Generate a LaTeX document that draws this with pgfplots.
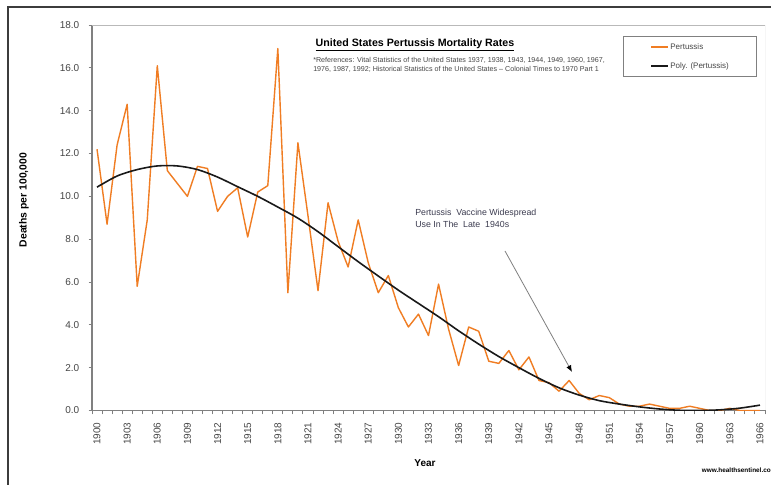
\documentclass[border=0pt]{standalone}
\usepackage{pgfplots}
\pgfplotsset{compat=1.18}
\usetikzlibrary{arrows.meta}
\usepackage{fontspec}
\setmainfont{Liberation Sans}
\definecolor{orangeL}{RGB}{240,125,35}
\definecolor{trend}{RGB}{25,25,25}
\definecolor{tickgray}{RGB}{70,70,70}
\definecolor{annot}{RGB}{60,60,80}
\definecolor{frame}{RGB}{60,60,60}
\pgfplotstableread{
year val
1900 12.2
1901 8.7
1902 12.4
1903 14.3
1904 5.8
1905 8.9
1906 16.1
1907 11.2
1908 10.6
1909 10.0
1910 11.4
1911 11.3
1912 9.3
1913 10.0
1914 10.4
1915 8.1
1916 10.2
1917 10.5
1918 16.9
1919 5.5
1920 12.5
1921 9.1
1922 5.6
1923 9.7
1924 7.9
1925 6.7
1926 8.9
1927 6.9
1928 5.5
1929 6.3
1930 4.8
1931 3.9
1932 4.5
1933 3.5
1934 5.9
1935 3.8
1936 2.1
1937 3.9
1938 3.7
1939 2.3
1940 2.2
1941 2.8
1942 1.9
1943 2.5
1944 1.4
1945 1.3
1946 0.9
1947 1.4
1948 0.8
1949 0.5
1950 0.7
1951 0.6
1952 0.3
1953 0.2
1954 0.2
1955 0.3
1956 0.2
1957 0.1
1958 0.1
1959 0.2
1960 0.1
1961 0.0
1962 0.0
1963 0.1
1964 0.0
1965 0.0
1966 0.0
}\pertussis
\pgfplotstableread{
year val
1900 10.43
1902 10.95
1904 11.25
1906 11.42
1908 11.42
1910 11.25
1912 10.90
1914 10.45
1916 10.00
1918 9.50
1920 8.98
1922 8.35
1924 7.65
1926 6.95
1928 6.28
1930 5.62
1932 5.00
1934 4.38
1936 3.72
1938 3.10
1940 2.52
1942 2.00
1944 1.50
1946 1.06
1948 0.72
1950 0.46
1952 0.30
1954 0.17
1956 0.07
1958 0.01
1960 0.00
1962 0.03
1964 0.11
1966 0.25
}\polyfit
\begin{document}
\begin{tikzpicture}[x=0.75pt,y=0.75pt]
\useasboundingbox (0,0) rectangle (771,485);
\fill[white] (0,0) rectangle (771,485);
\draw[line width=1.5pt, frame] (8,0) -- (8,478) -- (772,478);
\begin{axis}[
  at={(69pt,55.875pt)}, anchor=south west,
  scale only axis, width=504.75pt, height=289.1pt,
  xmin=1899.5, xmax=1966.5, ymin=0, ymax=18,
  axis x line*=bottom, axis y line*=left,
  axis line style={draw=gray, line width=0.9pt},
  tick align=outside,
  xtick={1900,1903,...,1966},
  minor xtick={1899.5,1900.5,...,1966.5},
  every major x tick/.append style={draw=none},
  minor tick length=3pt,
  major tick length=2.5pt,
  tick style={gray, line width=0.7pt},
  ytick={0,2,...,18},
  x tick label style={rotate=90, anchor=east, font=\fontsize{7.5}{9}\selectfont, text=tickgray,
     /pgf/number format/1000 sep={}},
  xticklabel shift=3pt,
  y tick label style={font=\fontsize{7.5}{9}\selectfont, text=tickgray,
     /pgf/number format/fixed, /pgf/number format/fixed zerofill, /pgf/number format/precision=1},
  yticklabel shift=3.5pt,
  /pgf/number format/assume math mode=true,
  legend cell align=left,
  legend image code/.code={\draw[#1, line width=1.4pt] (0pt,0pt) -- (12.75pt,0pt);},
  legend style={at={(0.789,0.971)}, anchor=north west, draw=gray, line width=0.75pt,
     font=\fontsize{6}{7}\selectfont, text=tickgray, inner xsep=20.25pt, inner ysep=5pt,
     row sep=8.5pt, nodes={inner xsep=0.75pt, inner ysep=0pt, text height=4.5pt, text depth=1.3pt}},
]
\addplot[orangeL, line width=1.05pt, line join=round] table[x=year, y=val] {\pertussis};
\addlegendentry{Pertussis}
\addplot[trend, line width=1.2pt, smooth] table[x=year, y=val] {\polyfit};
\addlegendentry{Poly. (Pertussis)}
\draw[gray!55, line width=0.6pt] (rel axis cs:0,1) -- (rel axis cs:1,1) -- (rel axis cs:1,0);
\end{axis}
% titles and labels
\node[anchor=west, font=\bfseries\fontsize{8}{10}\selectfont] at (311,440) {\underline{United States Pertussis Mortality Rates}};
\node[anchor=north west, align=left, inner sep=0pt, font=\fontsize{5.35}{6.8}\selectfont, text=tickgray] at (313,428)
  {*References: Vital Statistics of the United States 1937, 1938, 1943, 1944, 1949, 1960, 1967,\\
   1976, 1987, 1992; Historical Statistics of the United States -- Colonial Times to 1970 Part 1};
\node[rotate=90, font=\bfseries\fontsize{7.8}{9}\selectfont] at (24,285) {Deaths per 100,000};
\node[font=\bfseries\fontsize{7.5}{9}\selectfont] at (425,22) {Year};
\node[anchor=east, inner sep=0pt, font=\bfseries\fontsize{4.8}{6}\selectfont] at (771,15) {www.healthsentinel.co};
\node[anchor=north west, align=left, inner sep=0pt, font=\fontsize{6.6}{9}\selectfont, text=annot] at (415,276)
  {Pertussis\ \ Vaccine Widespread\\Use In The\ \ Late\ \ 1940s};
\draw[gray, line width=0.6pt, -{Latex[length=5pt,width=4pt,black]}] (505,234) -- (572,113);
\end{tikzpicture}
\end{document}
